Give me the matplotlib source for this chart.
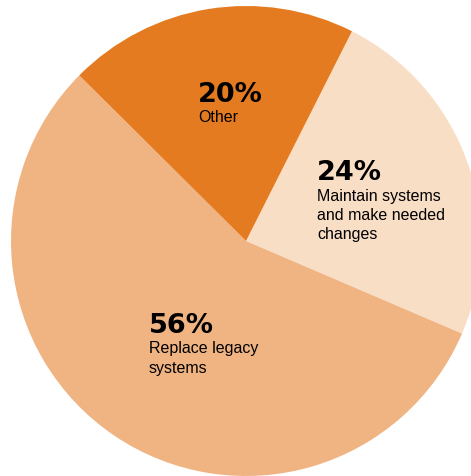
import numpy as np
import matplotlib.pyplot as plt

# survey shares, drawn clockwise starting at the upper right
shares = [24, 56, 20]
pcts = ["24%", "56%", "20%"]
names = ["Maintain systems\nand make needed\nchanges", "Replace legacy\nsystems", "Other"]
colors = ["#F9DEC6", "#F0B482", "#E57B20"]

W, H = 471, 477
fig = plt.figure(figsize=(W / 100, H / 100), dpi=100)
ax = fig.add_axes([0, 0, 1, 1])

ax.pie(shares, colors=colors, startangle=63.2, counterclock=False,
       center=(246, H - 242), radius=235,
       wedgeprops=dict(linewidth=0))
# pie() rescales the axes, so fix the pixel frame afterwards
ax.set_aspect("auto")
ax.set_xlim(0, W)
ax.set_ylim(0, H)
ax.axis("off")

# label anchors (left edge, baseline of the big number)
label_xy = [(317, H - 180), (149, H - 333), (198, H - 102)]
for (x, y), p, n in zip(label_xy, pcts, names):
    ax.text(x, y, p, fontsize=19.5, fontweight="bold", family="DejaVu Sans",
            ha="left", va="baseline", color="black")
    ax.text(x, y - 8.5, n, fontsize=11.5, family="Liberation Sans",
            ha="left", va="top", color="black", linespacing=1.36)

fig.savefig("out.png", dpi=100)
